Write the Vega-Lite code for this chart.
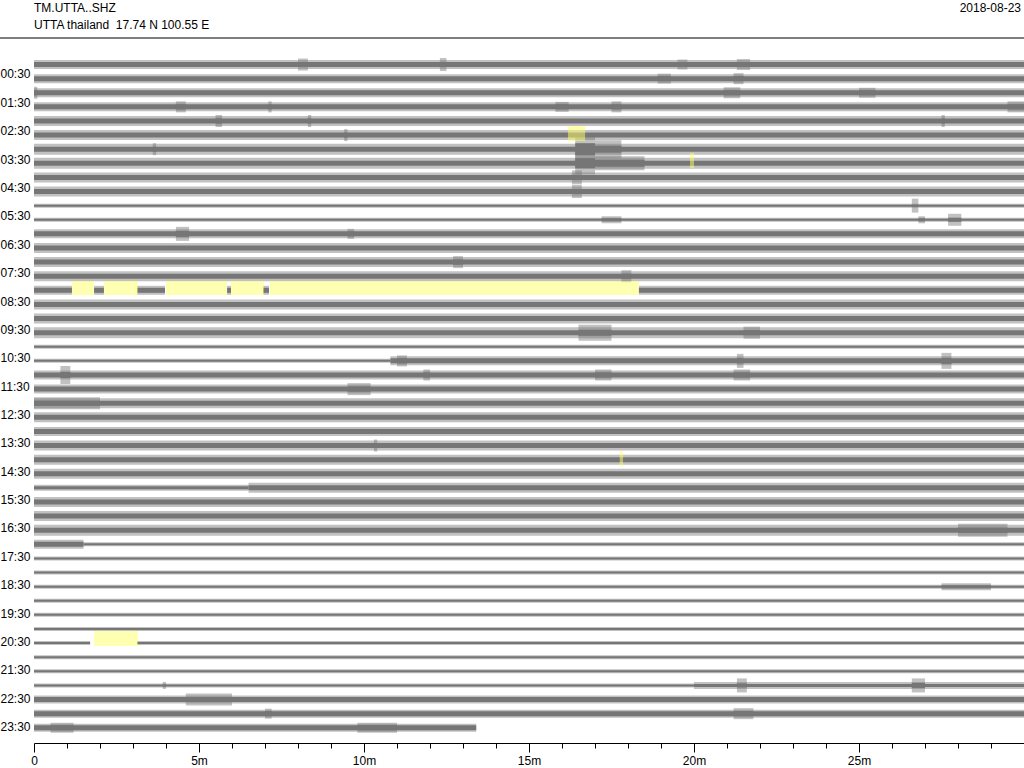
{
  "$schema": "https://vega.github.io/schema/vega-lite/v6.json",
  "width": 990,
  "height": 705,
  "autosize": "none",
  "padding": {"left": 34, "top": 38, "right": 0, "bottom": 25},
  "background": "white",
  "config": {"view": {"stroke": null}, "font": "Liberation Sans"},
  "datasets": {
    "traces": [
      {"row":0,"t0":0,"t1":30,"core":5,"env":9},{"row":0,"t0":8.0,"t1":8.3,"core":5,"env":12},{"row":0,"t0":12.3,"t1":12.5,"core":5,"env":13},{"row":0,"t0":19.5,"t1":19.8,"core":5,"env":10},{"row":0,"t0":21.3,"t1":21.7,"core":5,"env":11},
      {"row":1,"t0":0,"t1":30,"core":5,"env":9},{"row":1,"t0":18.9,"t1":19.3,"core":5,"env":10},{"row":1,"t0":21.2,"t1":21.5,"core":5,"env":11},
      {"row":2,"t0":0,"t1":30,"core":5,"env":9},{"row":2,"t0":0,"t1":0.1,"core":5,"env":12},{"row":2,"t0":20.9,"t1":21.4,"core":5,"env":11},{"row":2,"t0":25,"t1":25.5,"core":5,"env":10},
      {"row":3,"t0":0,"t1":30,"core":5,"env":9},{"row":3,"t0":4.3,"t1":4.6,"core":5,"env":11},{"row":3,"t0":7.1,"t1":7.2,"core":5,"env":11},{"row":3,"t0":15.8,"t1":16.2,"core":5,"env":10},{"row":3,"t0":17.5,"t1":17.8,"core":5,"env":11},{"row":3,"t0":29.5,"t1":30,"core":5,"env":11},
      {"row":4,"t0":0,"t1":30,"core":5,"env":10},{"row":4,"t0":5.5,"t1":5.7,"core":5,"env":12},{"row":4,"t0":8.3,"t1":8.4,"core":5,"env":12},{"row":4,"t0":27.5,"t1":27.6,"core":5,"env":12},
      {"row":5,"t0":0,"t1":30,"core":5,"env":10},{"row":5,"t0":9.4,"t1":9.5,"core":5,"env":12},
      {"row":6,"t0":0,"t1":30,"core":5,"env":11},{"row":6,"t0":3.6,"t1":3.7,"core":5,"env":12},{"row":6,"t0":16.4,"t1":17.0,"core":12,"env":26},{"row":6,"t0":17.0,"t1":17.8,"core":7,"env":18},
      {"row":7,"t0":0,"t1":30,"core":5,"env":11},{"row":7,"t0":16.4,"t1":17.0,"core":10,"env":22},{"row":7,"t0":17.0,"t1":18.5,"core":7,"env":14},
      {"row":8,"t0":0,"t1":30,"core":5,"env":10},{"row":8,"t0":16.3,"t1":16.6,"core":5,"env":14},
      {"row":9,"t0":0,"t1":30,"core":5,"env":10},{"row":9,"t0":16.3,"t1":16.6,"core":5,"env":13},
      {"row":10,"t0":0,"t1":30,"core":2,"env":4},{"row":10,"t0":26.6,"t1":26.8,"core":2,"env":14},
      {"row":11,"t0":0,"t1":30,"core":2,"env":4},{"row":11,"t0":17.2,"t1":17.8,"core":3,"env":7},{"row":11,"t0":26.8,"t1":27.0,"core":3,"env":7},{"row":11,"t0":27.7,"t1":28.1,"core":4,"env":12},
      {"row":12,"t0":0,"t1":30,"core":5,"env":9},{"row":12,"t0":4.3,"t1":4.7,"core":6,"env":14},{"row":12,"t0":9.5,"t1":9.7,"core":5,"env":10},
      {"row":13,"t0":0,"t1":30,"core":5,"env":10},
      {"row":14,"t0":0,"t1":30,"core":5,"env":10},{"row":14,"t0":12.7,"t1":13.0,"core":5,"env":12},
      {"row":15,"t0":0,"t1":30,"core":5,"env":10},{"row":15,"t0":17.8,"t1":18.1,"core":5,"env":12},
      {"row":16,"t0":0,"t1":1.15,"core":5,"env":9},{"row":16,"t0":1.82,"t1":2.12,"core":5,"env":9},{"row":16,"t0":3.12,"t1":3.97,"core":5,"env":9},{"row":16,"t0":5.85,"t1":5.97,"core":5,"env":9},{"row":16,"t0":6.94,"t1":7.12,"core":5,"env":9},{"row":16,"t0":18.33,"t1":30,"core":5,"env":9},
      {"row":17,"t0":0,"t1":30,"core":5,"env":10},
      {"row":18,"t0":0,"t1":30,"core":5,"env":10},
      {"row":19,"t0":0,"t1":30,"core":5,"env":11},{"row":19,"t0":16.5,"t1":17.5,"core":6,"env":16},{"row":19,"t0":21.5,"t1":22.0,"core":5,"env":12},
      {"row":20,"t0":0,"t1":30,"core":2,"env":4},
      {"row":21,"t0":0,"t1":10.8,"core":2,"env":4},{"row":21,"t0":10.8,"t1":30,"core":5,"env":9},{"row":21,"t0":11.0,"t1":11.3,"core":5,"env":11},{"row":21,"t0":21.3,"t1":21.5,"core":5,"env":14},{"row":21,"t0":27.5,"t1":27.8,"core":6,"env":16},
      {"row":22,"t0":0,"t1":30,"core":5,"env":9},{"row":22,"t0":0.8,"t1":1.1,"core":6,"env":18},{"row":22,"t0":11.8,"t1":12.0,"core":5,"env":11},{"row":22,"t0":17.0,"t1":17.5,"core":5,"env":11},{"row":22,"t0":21.2,"t1":21.7,"core":5,"env":11},
      {"row":23,"t0":0,"t1":30,"core":5,"env":9},{"row":23,"t0":9.5,"t1":10.2,"core":5,"env":12},
      {"row":24,"t0":0,"t1":30,"core":5,"env":10},{"row":24,"t0":0,"t1":2,"core":5,"env":12},
      {"row":25,"t0":0,"t1":30,"core":5,"env":10},
      {"row":26,"t0":0,"t1":30,"core":5,"env":9},
      {"row":27,"t0":0,"t1":30,"core":5,"env":10},{"row":27,"t0":10.3,"t1":10.4,"core":5,"env":12},
      {"row":28,"t0":0,"t1":30,"core":5,"env":10},
      {"row":29,"t0":0,"t1":30,"core":5,"env":10},
      {"row":30,"t0":0,"t1":6.5,"core":3,"env":6},{"row":30,"t0":6.5,"t1":30,"core":5,"env":10},
      {"row":31,"t0":0,"t1":30,"core":5,"env":10},
      {"row":32,"t0":0,"t1":30,"core":5,"env":10},
      {"row":33,"t0":0,"t1":30,"core":5,"env":11},{"row":33,"t0":28,"t1":29.5,"core":5,"env":13},
      {"row":34,"t0":0,"t1":1.5,"core":5,"env":9},{"row":34,"t0":1.5,"t1":30,"core":2,"env":4},
      {"row":35,"t0":0,"t1":30,"core":2,"env":4},
      {"row":36,"t0":0,"t1":30,"core":2,"env":4},
      {"row":37,"t0":0,"t1":30,"core":2,"env":4},{"row":37,"t0":27.5,"t1":29.0,"core":3,"env":7},
      {"row":38,"t0":0,"t1":30,"core":2,"env":4},
      {"row":39,"t0":0,"t1":30,"core":2,"env":4},
      {"row":40,"t0":0,"t1":30,"core":2,"env":4},
      {"row":41,"t0":0,"t1":1.7,"core":2,"env":4},{"row":41,"t0":3.12,"t1":30,"core":2,"env":4},
      {"row":42,"t0":0,"t1":30,"core":2,"env":4},
      {"row":43,"t0":0,"t1":30,"core":2,"env":4},
      {"row":44,"t0":0,"t1":20,"core":2,"env":4},{"row":44,"t0":20,"t1":30,"core":3,"env":7},{"row":44,"t0":3.9,"t1":4.0,"core":2,"env":7},{"row":44,"t0":21.3,"t1":21.6,"core":4,"env":14},{"row":44,"t0":26.6,"t1":27.0,"core":5,"env":14},
      {"row":45,"t0":0,"t1":30,"core":5,"env":8},{"row":45,"t0":4.6,"t1":6.0,"core":5,"env":12},
      {"row":46,"t0":0,"t1":30,"core":5,"env":8},{"row":46,"t0":7.0,"t1":7.2,"core":5,"env":10},{"row":46,"t0":21.2,"t1":21.8,"core":5,"env":11},
      {"row":47,"t0":0,"t1":13.4,"core":5,"env":8},{"row":47,"t0":0.5,"t1":1.2,"core":5,"env":10},{"row":47,"t0":9.8,"t1":11.0,"core":5,"env":10}
    ],
    "gaps": [
      {"t0":16.18,"t1":16.7,"row":4.36,"row2":5.42},
      {"t0":19.88,"t1":20.0,"row":6.27,"row2":7.33},
      {"t0":1.15,"t1":1.82,"row":15.34,"row2":16.34},
      {"t0":2.12,"t1":3.15,"row":15.34,"row2":16.34},
      {"t0":4.0,"t1":5.85,"row":15.34,"row2":16.34},
      {"t0":5.97,"t1":6.97,"row":15.34,"row2":16.34},
      {"t0":7.15,"t1":18.33,"row":15.34,"row2":16.34},
      {"t0":17.75,"t1":17.85,"row":27.4,"row2":28.45},
      {"t0":1.82,"t1":3.15,"row":40.15,"row2":41.21}
    ]
  },
  "encoding": {
    "x": {
      "field": "t0", "type": "quantitative",
      "scale": {"domain": [0, 30], "nice": false, "zero": false, "padding": 0},
      "axis": {
        "title": null, "orient": "bottom", "grid": false,
        "values": [0,1,2,3,4,5,6,7,8,9,10,11,12,13,14,15,16,17,18,19,20,21,22,23,24,25,26,27,28,29],
        "labelExpr": "datum.value % 5 === 0 ? (datum.value === 0 ? '0' : datum.value + 'm') : ''",
        "tickSize": {"condition": {"test": "datum.value % 5 === 0", "value": 9}, "value": 5},
        "domainColor": "#000000", "tickColor": "#000000", "labelColor": "#000000",
        "labelFontSize": 12, "labelFont": "Liberation Sans", "labelPadding": 3,
        "labelFlush": false, "labelOverlap": false, "domainWidth": 1, "tickWidth": 1
      }
    },
    "y": {
      "field": "row", "type": "quantitative",
      "scale": {"domain": [-1.88, 48.08], "reverse": true, "nice": false, "zero": false, "padding": 0},
      "axis": {
        "title": null, "orient": "left", "grid": false, "domain": false, "ticks": false,
        "values": [0.67, 2.68, 4.69, 6.70, 8.71, 10.72, 12.74, 14.75, 16.76, 18.77, 20.78, 22.79, 24.80, 26.81, 28.82, 30.83, 32.84, 34.85, 36.86, 38.87, 40.88, 42.90, 44.91, 46.92],
        "labelExpr": "(round((datum.value-0.67)/2.011) < 10 ? '0' : '') + round((datum.value-0.67)/2.011) + ':30'",
        "labelAlign": "left", "labelBaseline": "middle", "labelPadding": 34,
        "labelFontSize": 12, "labelFont": "Liberation Sans", "labelColor": "#000000", "labelOverlap": false
      }
    }
  },
  "layer": [
    {
      "data": {"name": "traces"},
      "mark": {"type": "bar", "color": "#767676", "opacity": 0.45, "orient": "horizontal"},
      "encoding": {
        "x2": {"field": "t1"},
        "size": {"field": "env", "type": "quantitative", "scale": {"domain": [0, 30], "range": [0, 30]}, "legend": null}
      }
    },
    {
      "data": {"name": "traces"},
      "mark": {"type": "bar", "color": "#767676", "opacity": 1, "orient": "horizontal"},
      "encoding": {
        "x2": {"field": "t1"},
        "size": {"field": "core", "type": "quantitative", "scale": {"domain": [0, 30], "range": [0, 30]}, "legend": null}
      }
    },
    {
      "data": {"name": "gaps"},
      "mark": {"type": "rect", "color": "#ffff66", "opacity": 0.5},
      "encoding": {
        "x2": {"field": "t1"},
        "y2": {"field": "row2"}
      }
    },
    {
      "data": {"values": [{"t0": -1.03, "t1": 30, "row": -1.88}]},
      "mark": {"type": "rule", "color": "#000000", "strokeWidth": 1, "clip": false},
      "encoding": {"x2": {"field": "t1"}}
    },
    {
      "data": {"values": [
        {"t0": 0, "row": -3.98, "label": "TM.UTTA..SHZ"},
        {"t0": 0, "row": -2.78, "label": "UTTA thailand\u00a0 17.74 N 100.55 E"}
      ]},
      "mark": {"type": "text", "align": "left", "baseline": "middle", "fontSize": 12, "font": "Liberation Sans", "color": "#000000"},
      "encoding": {"text": {"field": "label"}}
    },
    {
      "data": {"values": [{"t0": 29.91, "row": -3.98, "label": "2018-08-23"}]},
      "mark": {"type": "text", "align": "right", "baseline": "middle", "fontSize": 12, "font": "Liberation Sans", "color": "#000000"},
      "encoding": {"text": {"field": "label"}}
    }
  ],
  "resolve": {"scale": {"size": "independent"}}
}
